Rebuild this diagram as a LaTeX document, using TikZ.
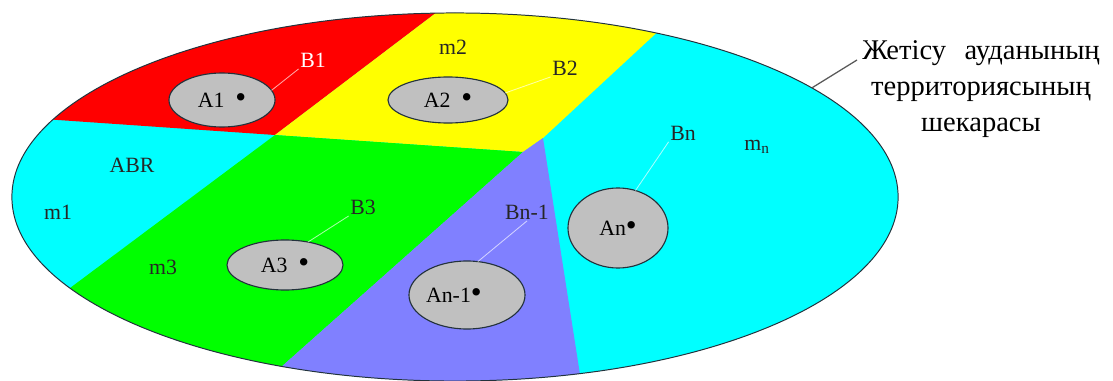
\documentclass[tikz,border=0pt]{standalone}
\usepackage{fontspec}
\setmainfont{Liberation Serif}
\usepackage{xcolor}
\definecolor{zonered}{RGB}{255,0,0}
\definecolor{zoneyellow}{RGB}{255,255,0}
\definecolor{zonegreen}{RGB}{0,255,0}
\definecolor{zonecyan}{RGB}{0,255,255}
\definecolor{zoneviolet}{RGB}{128,128,255}
\definecolor{centregray}{RGB}{192,192,192}
\definecolor{edgedark}{RGB}{35,50,60}
\usetikzlibrary{shapes.geometric}
\tikzset{
  ctr_ell/.style={ellipse,draw=edgedark,line width=0.8pt,
    fill=centregray,inner sep=0pt,outer sep=0pt,
    font=\fontsize{15.5}{17}\selectfont},
  zone_lbl/.style={inner sep=1pt,
    font=\fontsize{15.5}{17}\selectfont,text=black!85},
  lead/.style={draw=white,opacity=0.65,line width=0.6pt},
  ptr/.style={draw=black!65,line width=0.9pt},
}
\newcommand{\ctrdot}{{\fontsize{22}{22}\selectfont\textbullet}}

\begin{document}
\begin{tikzpicture}[x=0.025cm,y=-0.025cm]
  \useasboundingbox (0,0) rectangle (1113,381);
  % zones
  \begin{scope}
    \clip (455,197) ellipse [x radius=443,y radius=184];
    \fill[zonecyan] (0,0) rectangle (1113,381);
    \fill[zonered] (0,116) -- (275,135) -- (453,0) -- (0,0) -- cycle;
    \fill[zoneyellow] (275,135) -- (453,0) -- (692,0) -- (543,138) -- (523,152) -- cycle;
    \fill[zonegreen] (275,135) -- (523,152) -- (244,400) -- (-80,400) -- cycle;
    \fill[zoneviolet] (543,138) -- (523,152) -- (244,400) -- (584,400) -- cycle;
  \end{scope}
  \node (district) [ellipse,draw=edgedark,line width=0.7pt,inner sep=0pt,outer sep=0pt,
    minimum width=22.15cm,minimum height=9.2cm] at (455,197) {};

  % centres
  \node (a1) [ctr_ell,minimum width=2.65cm,minimum height=1.35cm] at (222,100) {A1\hspace{0.5em}\ctrdot};
  \node (a2) [ctr_ell,minimum width=3cm,minimum height=1.15cm] at (448,100) {A2\hspace{0.5em}\ctrdot};
  \node (a3) [ctr_ell,minimum width=2.9cm,minimum height=1.25cm] at (285,265) {A3\hspace{0.5em}\ctrdot};
  \node (an1) [ctr_ell,minimum width=2.9cm,minimum height=1.7cm] at (467,295) {An-1\ctrdot\hspace*{1.2em}};
  \node (an) [ctr_ell,minimum width=2.5cm,minimum height=2cm] at (618,228) {An\ctrdot};

  % labels
  \node (b1) [zone_lbl,text=white] at (313,60) {B1};
  \node (m2) [zone_lbl] at (453,47) {m2};
  \node (b2) [zone_lbl] at (565,68) {B2};
  \node (abr) [zone_lbl] at (132,165) {ABR};
  \node (m1) [zone_lbl] at (58,212) {m1};
  \node (m3) [zone_lbl] at (163,267) {m3};
  \node (b3) [zone_lbl] at (363,207) {B3};
  \node (bn1) [zone_lbl] at (527,212) {Bn-1};
  \node (bn) [zone_lbl] at (683,133) {Bn};
  \node (mn) [zone_lbl] at (757,147) {m\textsubscript{n}};

  \node (bordertxt) [align=center,inner sep=0pt,
    font=\fontsize{20.3}{25.6}\selectfont] at (981,89)
    {Жетісу\hspace{0.65em}ауданының\\территориясының\\шекарасы};
  \coordinate (tip) at (857,60);

  \draw[lead] (a1.11) -- (b1.south west);
  \draw[lead] (a2.7) -- (b2.south west);
  \draw[lead] (a3.45) -- (b3.south west);
  \draw[lead] (an1.72) -- (bn1.south);
  \draw[lead] (an.65) -- (bn.south west);
  \draw[ptr] (district.17) -- (tip);
\end{tikzpicture}
\end{document}
